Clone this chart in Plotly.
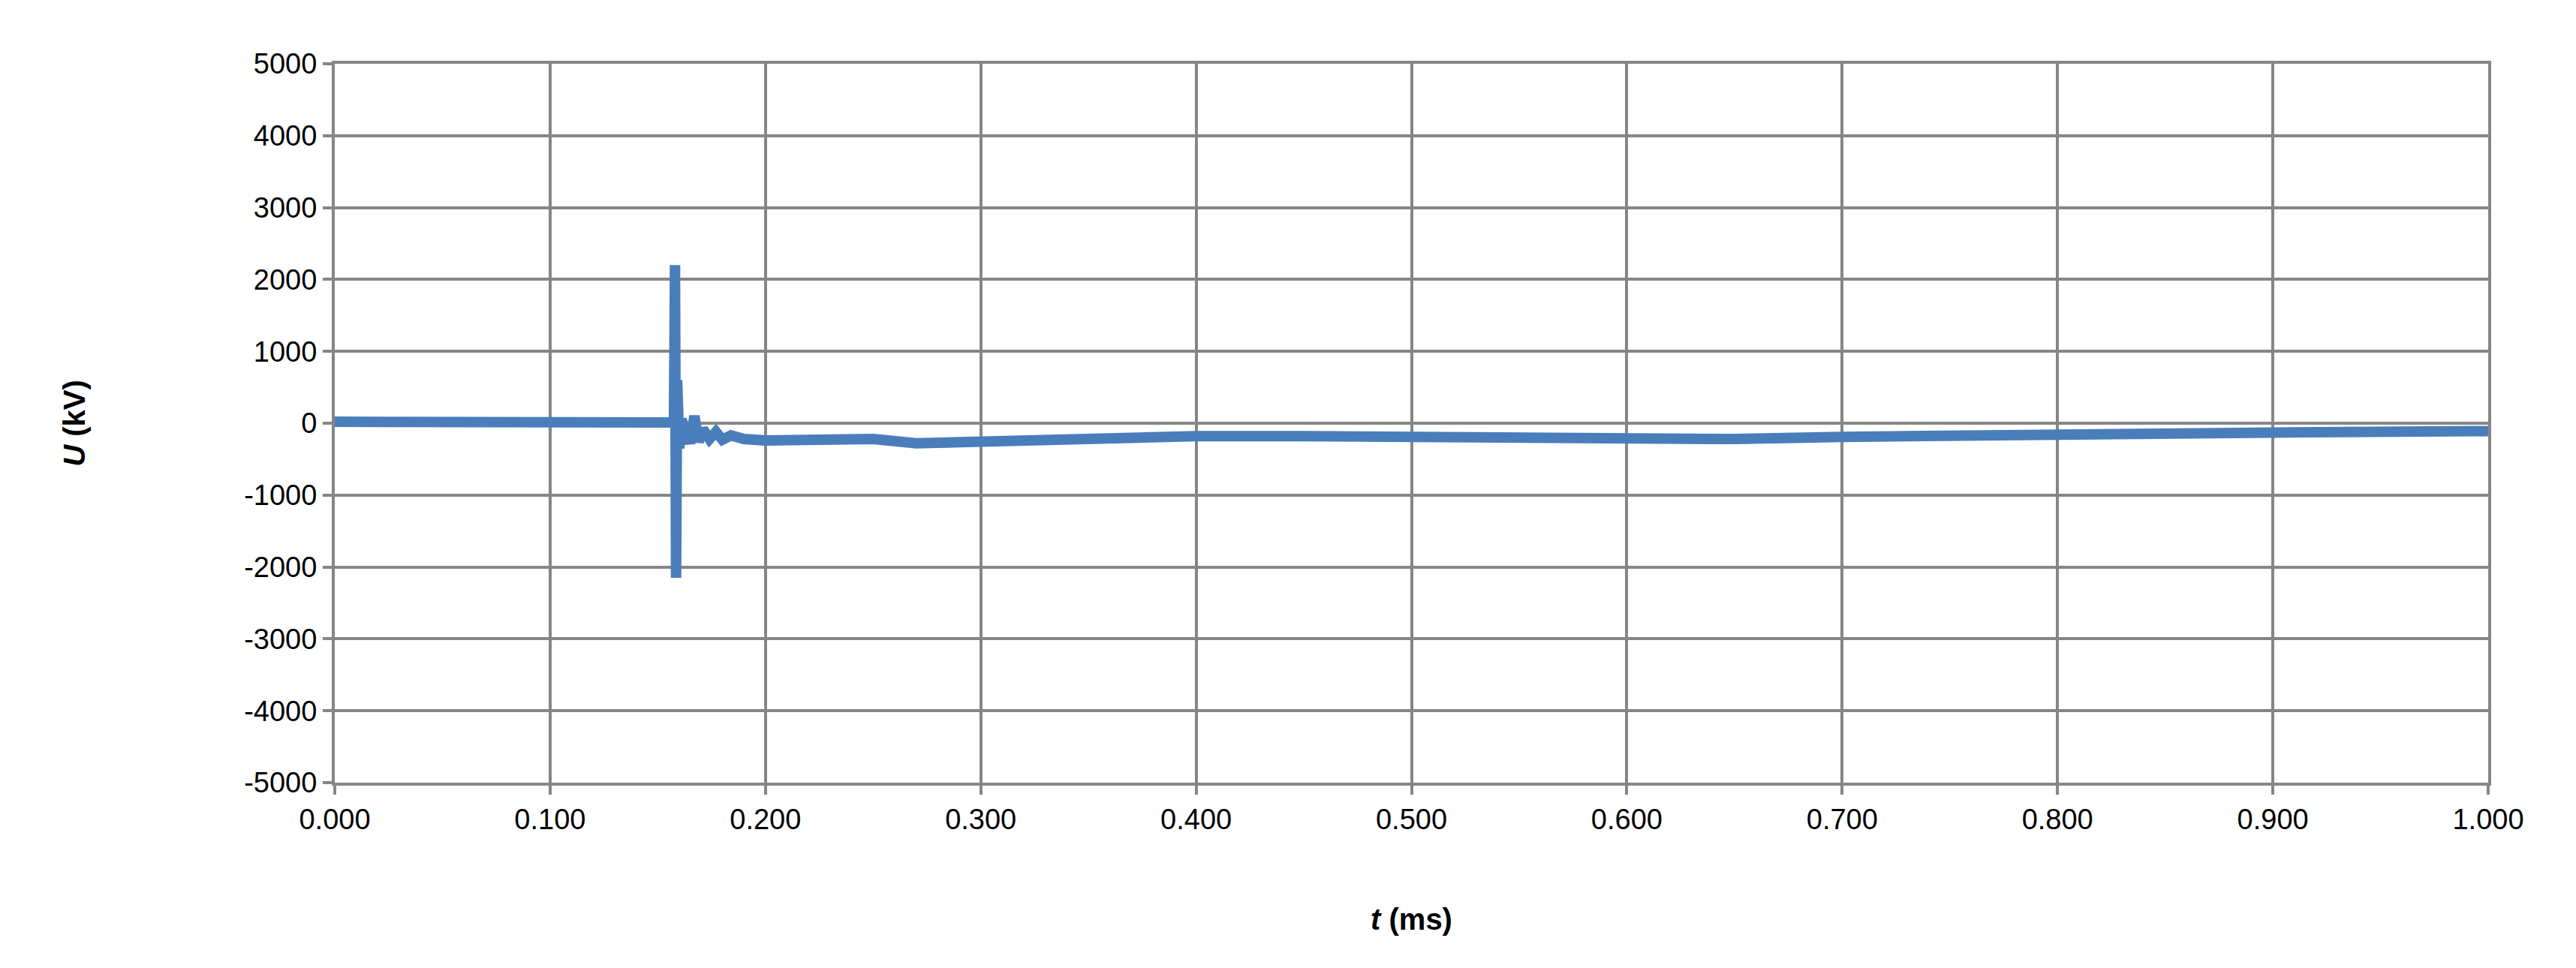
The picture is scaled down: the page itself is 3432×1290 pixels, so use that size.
import plotly.graph_objects as go

# tiempo (ms) y tensión (kV)
t_ms = [0.000, 0.050, 0.100, 0.150, 0.1575, 0.1580, 0.1585, 0.1590, 0.1600, 0.1610, 0.1630,
        0.1650, 0.1670, 0.1690, 0.1710, 0.1740, 0.1770, 0.1800, 0.1840, 0.1900, 0.2000,
        0.2200, 0.2500, 0.2700, 0.3000, 0.3300, 0.4000, 0.4500, 0.5000, 0.5800, 0.6500,
        0.7000, 0.7500, 0.8000, 0.9000, 1.000]
u_kv = [20, 20, 20, 15, 10, 2200, -2150, 600, -350, 50, -100,
        -280, 100, -260, -80, -220, -120, -230, -170, -220, -240,
        -240, -220, -280, -250, -220, -180, -180, -190, -230, -220,
        -190, -170, -150, -130, -110]
y_ticks = list(range(-5000, 5001, 1000))
y_labels = [str(v) for v in y_ticks]

fig = go.Figure()
fig.add_trace(go.Scatter(x=t_ms, y=u_kv, mode='lines',
                         line=dict(color='#4a7ebb', width=14), showlegend=False))

axis_common = dict(showgrid=True, gridcolor='#868686', gridwidth=4,
                   showline=True, linecolor='#868686', linewidth=4, mirror=True,
                   zeroline=False, ticks='outside', tickcolor='#868686', ticklen=12, tickwidth=4,
                   tickfont=dict(family='Liberation Sans', size=38, color='black'))

fig.update_xaxes(range=[0, 1], dtick=0.1, tickformat='.3f',
                 title=dict(text='<b><i>t</i> (ms)</b>',
                            font=dict(family='Liberation Sans', size=40, color='black'),
                            standoff=100), **axis_common)
fig.update_yaxes(range=[-5000, 5000], tickvals=y_ticks, ticktext=y_labels,
                 title=dict(text='<b><i>U</i> (kV)</b>',
                            font=dict(family='Liberation Sans', size=40, color='black'),
                            standoff=200), **axis_common)

fig.update_layout(width=3432, height=1290, plot_bgcolor='white', paper_bgcolor='white',
                  margin=dict(l=438, r=125, t=77, b=255))

fig.write_html("out.html")
